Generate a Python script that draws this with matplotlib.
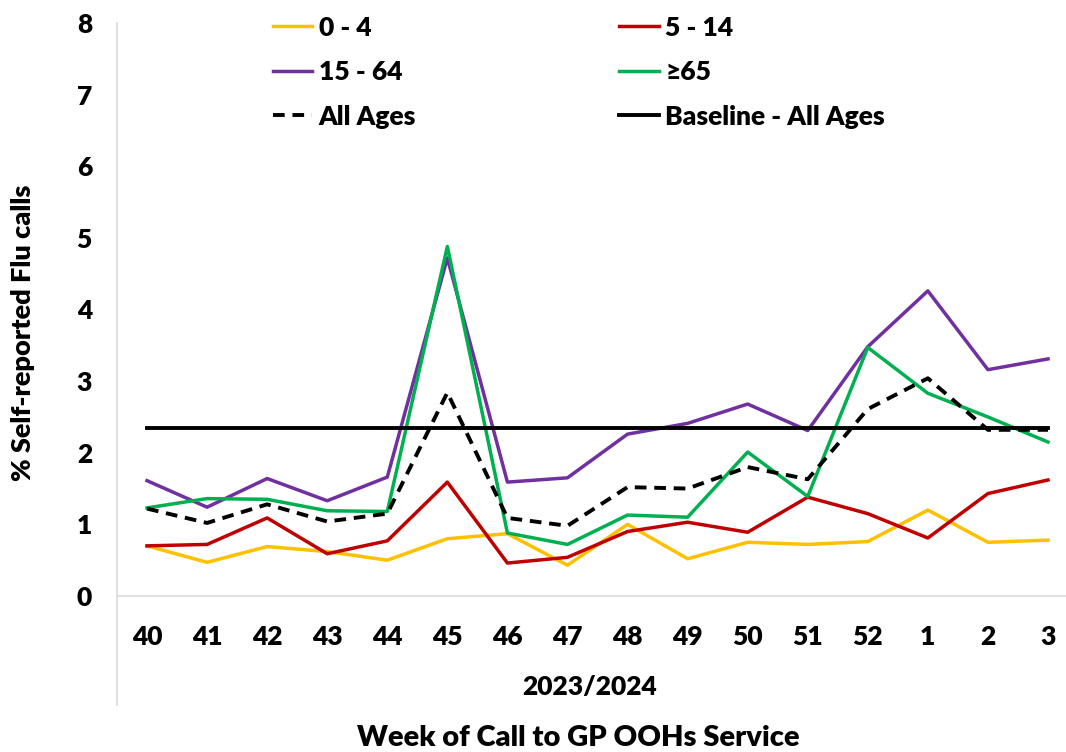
import matplotlib
matplotlib.use('Agg')
import matplotlib.pyplot as plt

plt.rcParams['font.family'] = ['Lato', 'DejaVu Sans']
plt.rcParams['font.weight'] = 'heavy'
plt.rcParams['axes.labelweight'] = 'heavy'

weeks = ['40', '41', '42', '43', '44', '45', '46', '47', '48', '49', '50', '51', '52', '1', '2', '3']
age_0_4 = [0.70, 0.47, 0.69, 0.62, 0.50, 0.80, 0.87, 0.43, 1.00, 0.52, 0.75, 0.72, 0.76, 1.20, 0.75, 0.78]
age_5_14 = [0.70, 0.72, 1.09, 0.59, 0.77, 1.59, 0.46, 0.54, 0.90, 1.03, 0.89, 1.38, 1.15, 0.81, 1.43, 1.62]
age_15_64 = [1.61, 1.24, 1.64, 1.33, 1.66, 4.72, 1.59, 1.65, 2.26, 2.41, 2.68, 2.31, 3.48, 4.26, 3.16, 3.31]
age_65_plus = [1.23, 1.36, 1.35, 1.19, 1.18, 4.88, 0.88, 0.72, 1.13, 1.10, 2.01, 1.39, 3.47, 2.83, 2.50, 2.15]
all_ages = [1.22, 1.02, 1.28, 1.04, 1.15, 2.84, 1.09, 0.98, 1.52, 1.50, 1.80, 1.63, 2.61, 3.04, 2.32, 2.32]
baseline = 2.34

fig = plt.figure(figsize=(10.66, 7.52), dpi=100)
ax = fig.add_axes([117 / 1066, 1 - 596 / 752, (1066 - 117) / 1066, 573 / 752])

x = list(range(len(weeks)))
l1, = ax.plot(x, age_0_4, color='#FFC000', lw=2.5, label='0 - 4')
l2, = ax.plot(x, age_5_14, color='#C00000', lw=2.5, label='5 - 14')
l3, = ax.plot(x, age_15_64, color='#7030A0', lw=2.5, label='15 - 64')
l4, = ax.plot(x, age_65_plus, color='#00B050', lw=2.5, label='≥65')
l5, = ax.plot(x, all_ages, color='black', lw=2.8, ls=(0, (3, 2)), label='All Ages')
l6 = ax.axhline(baseline, xmin=0.5 / 15.8, xmax=15.5 / 15.8, color='black', lw=2.8,
                label='Baseline - All Ages')

ax.set_xlim(-0.5, 15.3)
ax.set_ylim(0, 8)
ax.set_xticks(x)
ax.set_xticklabels(weeks)
ax.set_yticks(range(0, 9))
ax.tick_params(axis='both', length=0, labelsize=19)
ax.tick_params(axis='x', pad=21)
ax.tick_params(axis='y', pad=18)

for s in ['top', 'right']:
    ax.spines[s].set_visible(False)
ax.spines['left'].set_color('#d9d9d9')
ax.spines['bottom'].set_color('#d9d9d9')
ax.spines['left'].set_linewidth(1.2)
ax.spines['bottom'].set_linewidth(1.2)
ax.plot([0, 0], [0, -109 / 573], transform=ax.transAxes, color='#d9d9d9', lw=1.2, clip_on=False)

ax.set_ylabel('% Self-reported Flu calls', fontsize=19.5, fontweight='heavy')
ax.yaxis.set_label_coords(-82 / 949, 0.46)
ax.text(590 / 1066, 1 - 687 / 752, '2023/2024', transform=fig.transFigure,
        ha='center', va='center', fontsize=19)
fig.text(578 / 1066, 1 - 738 / 752, 'Week of Call to GP OOHs Service',
         ha='center', va='center', fontsize=21)

handles = [l1, l3, l5, l2, l4, l6]
ax.legend(handles=handles, labels=[h.get_label() for h in handles], ncol=2,
          loc='upper left', bbox_to_anchor=(262 / 1066, 1 - 5 / 752),
          bbox_transform=fig.transFigure, frameon=False, fontsize=19,
          handlelength=1.5, handletextpad=0.25, columnspacing=7.7,
          labelspacing=0.78, borderaxespad=0)

plt.savefig('out.png', dpi=100)
plt.close()
